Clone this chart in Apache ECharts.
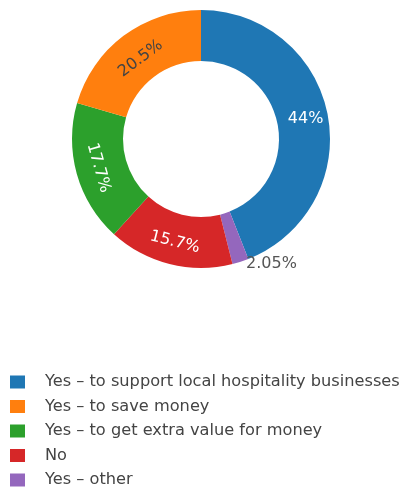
<!DOCTYPE html>
<html>
<head>
<meta charset="utf-8">
<script src="https://cdn.jsdelivr.net/npm/echarts@6/dist/echarts.min.js"></script>
<style>
  html, body { margin: 0; padding: 0; background: #fff; }
  #chart { width: 404px; height: 492px; }
</style>
</head>
<body>
<div id="chart"></div>
<script>
// Answer categories, in legend order (largest share first)
const categories = [
  'Yes – to support local hospitality businesses',
  'Yes – to save money',
  'Yes – to get extra value for money',
  'No',
  'Yes – other'
];
// Share of respondents, percent
const shares = [44, 20.5, 17.7, 15.7, 2.05];
const colors = ['#1f77b4', '#ff7f0e', '#2ca02c', '#d62728', '#9467bd'];
// Order of slices going clockwise from 12 o'clock
const sliceOrder = [0, 4, 3, 2, 1];

const fontFamily = '"DejaVu Sans", Verdana, sans-serif';

const pieData = sliceOrder.map(function (i) {
  const item = {
    name: categories[i],
    value: shares[i],
    itemStyle: { color: colors[i] }
  };
  if (i === 0) {
    item.label = { rotate: 0, color: '#fff' };
  } else if (i === 1) {
    item.label = { color: '#444', offset: [0, 6] };
  } else if (i === 4) {
    item.label = { position: 'outside', color: '#555', rotate: 0 };
    item.labelLine = { show: false, length: 2, length2: 0 };
  }
  return item;
});

const chart = echarts.init(document.getElementById('chart'), null, { renderer: 'canvas' });
chart.setOption({
  animation: false,
  backgroundColor: '#fff',
  legend: {
    orient: 'vertical',
    left: 5,
    top: 369,
    height: 200,
    itemWidth: 15,
    itemHeight: 13,
    itemGap: 8.5,
    icon: 'rect',
    data: categories,
    selectedMode: false,
    textStyle: {
      fontFamily: fontFamily,
      fontSize: 16.2,
      lineHeight: 13,
      color: '#444',
      padding: [0, 0, 0, 15]
    }
  },
  series: [{
    type: 'pie',
    center: [201, 139],
    radius: [78, 129],
    startAngle: 90,
    clockwise: true,
    avoidLabelOverlap: false,
    data: pieData,
    itemStyle: { borderColor: '#fff', borderWidth: 0 },
    label: {
      show: true,
      position: 'inside',
      rotate: 'tangential',
      formatter: function (p) { return p.value + '%'; },
      fontFamily: fontFamily,
      fontSize: 16,
      color: '#fff'
    },
    labelLine: { show: false },
    emphasis: { disabled: true }
  }]
});
</script>
</body>
</html>
